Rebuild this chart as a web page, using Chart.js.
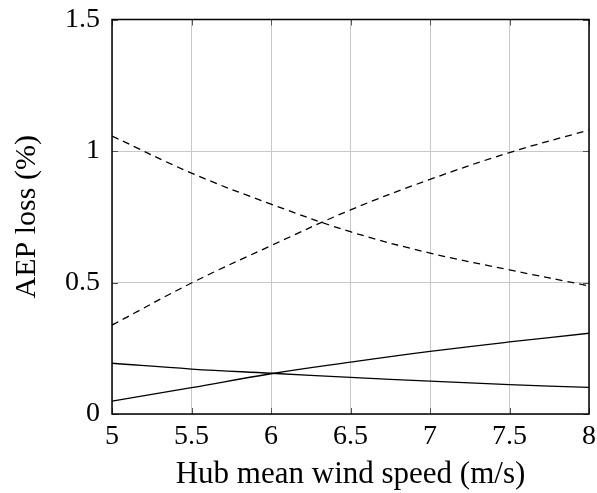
<!DOCTYPE html>
<html>
<head>
<meta charset="utf-8">
<script src="https://cdn.jsdelivr.net/npm/chart.js@4"></script>
<style>
  html, body { margin: 0; padding: 0; background: #fff; }
  #wrap { width: 597px; height: 493px; }
</style>
</head>
<body>
<div id="wrap"><canvas id="chartCanvas" width="597" height="493"></canvas></div>
<script>
// wind speeds (m/s)
const windSpeeds = [5, 5.5, 6, 6.5, 7, 7.5, 8];
// AEP loss (%)
const dashedFalling = [1.057, 0.916, 0.798, 0.693, 0.612, 0.548, 0.487];
const dashedRising = [0.338, 0.498, 0.640, 0.776, 0.892, 0.994, 1.080];
const solidFalling = [0.193, 0.171, 0.155, 0.139, 0.125, 0.112, 0.101];
const solidRising = [0.049, 0.100, 0.153, 0.197, 0.238, 0.274, 0.307];
const xTicks = [5, 5.5, 6, 6.5, 7, 7.5, 8];
const yTicks = [0, 0.5, 1, 1.5];

const serif = "'Liberation Serif', 'DejaVu Serif', serif";

function toPoints(values) {
    return windSpeeds.map((x, i) => ({ x: x, y: values[i] }));
}

function makeSet(values, dashed) {
    return {
        data: toPoints(values),
        borderColor: '#000',
        borderWidth: 1.3,
        borderDash: dashed ? [7, 5] : [],
        pointRadius: 0,
        tension: 0.4,
        fill: false
    };
}

// frame + small inner tick marks like pgfplots
const framePlugin = {
    id: 'frame',
    afterDraw(chart) {
        const ctx = chart.ctx;
        const a = chart.chartArea;
        const xs = chart.scales.x, ys = chart.scales.y;
        ctx.save();
        ctx.strokeStyle = '#555';
        ctx.lineWidth = 1;
        xTicks.forEach(t => {
            const px = Math.round(xs.getPixelForValue(t)) + 0.5;
            ctx.beginPath();
            ctx.moveTo(px, a.bottom); ctx.lineTo(px, a.bottom - 6);
            ctx.moveTo(px, a.top); ctx.lineTo(px, a.top + 6);
            ctx.stroke();
        });
        yTicks.forEach(t => {
            const py = Math.round(ys.getPixelForValue(t)) + 0.5;
            ctx.beginPath();
            ctx.moveTo(a.left, py); ctx.lineTo(a.left + 6, py);
            ctx.moveTo(a.right, py); ctx.lineTo(a.right - 6, py);
            ctx.stroke();
        });
        ctx.strokeStyle = '#000';
        ctx.lineWidth = 1.5;
        ctx.strokeRect(a.left, a.top, a.right - a.left, a.bottom - a.top);
        ctx.restore();
    }
};

const ctx = document.getElementById('chartCanvas').getContext('2d');
new Chart(ctx, {
    type: 'line',
    data: {
        datasets: [
            makeSet(dashedFalling, true),
            makeSet(dashedRising, true),
            makeSet(solidFalling, false),
            makeSet(solidRising, false)
        ]
    },
    options: {
        responsive: false,
        animation: false,
        layout: { padding: { left: 0, right: 8, top: 19.5, bottom: 0 } },
        plugins: {
            legend: { display: false },
            tooltip: { enabled: false }
        },
        scales: {
            x: {
                type: 'linear',
                min: 5,
                max: 8,
                afterBuildTicks: axis => { axis.ticks = xTicks.map(v => ({ value: v })); },
                ticks: {
                    color: '#000',
                    font: { family: serif, size: 28 },
                    padding: 6,
                    maxRotation: 0,
                    callback: v => String(v)
                },
                grid: { color: '#c8c8c8', lineWidth: 1, drawTicks: false },
                border: { display: false },
                title: {
                    display: true,
                    text: 'Hub mean wind speed (m/s)',
                    color: '#000',
                    font: { family: serif, size: 31 },
                    padding: { top: 7, bottom: 0 }
                },
                afterFit: axis => {
                    axis.height = 79;
                    axis.paddingLeft = 0;
                    axis.paddingRight = 0;
                }
            },
            y: {
                min: 0,
                max: 1.5,
                afterBuildTicks: axis => { axis.ticks = yTicks.map(v => ({ value: v })); },
                ticks: {
                    color: '#000',
                    font: { family: serif, size: 28 },
                    padding: 12,
                    callback: v => String(v)
                },
                grid: { color: '#c8c8c8', lineWidth: 1, drawTicks: false },
                border: { display: false },
                title: {
                    display: true,
                    text: 'AEP loss (%)',
                    color: '#000',
                    font: { family: serif, size: 30 },
                    padding: { top: 9, bottom: 0 }
                },
                afterFit: axis => {
                    axis.width = 112;
                    axis.paddingTop = 0;
                    axis.paddingBottom = 0;
                }
            }
        }
    },
    plugins: [framePlugin]
});
</script>
</body>
</html>
